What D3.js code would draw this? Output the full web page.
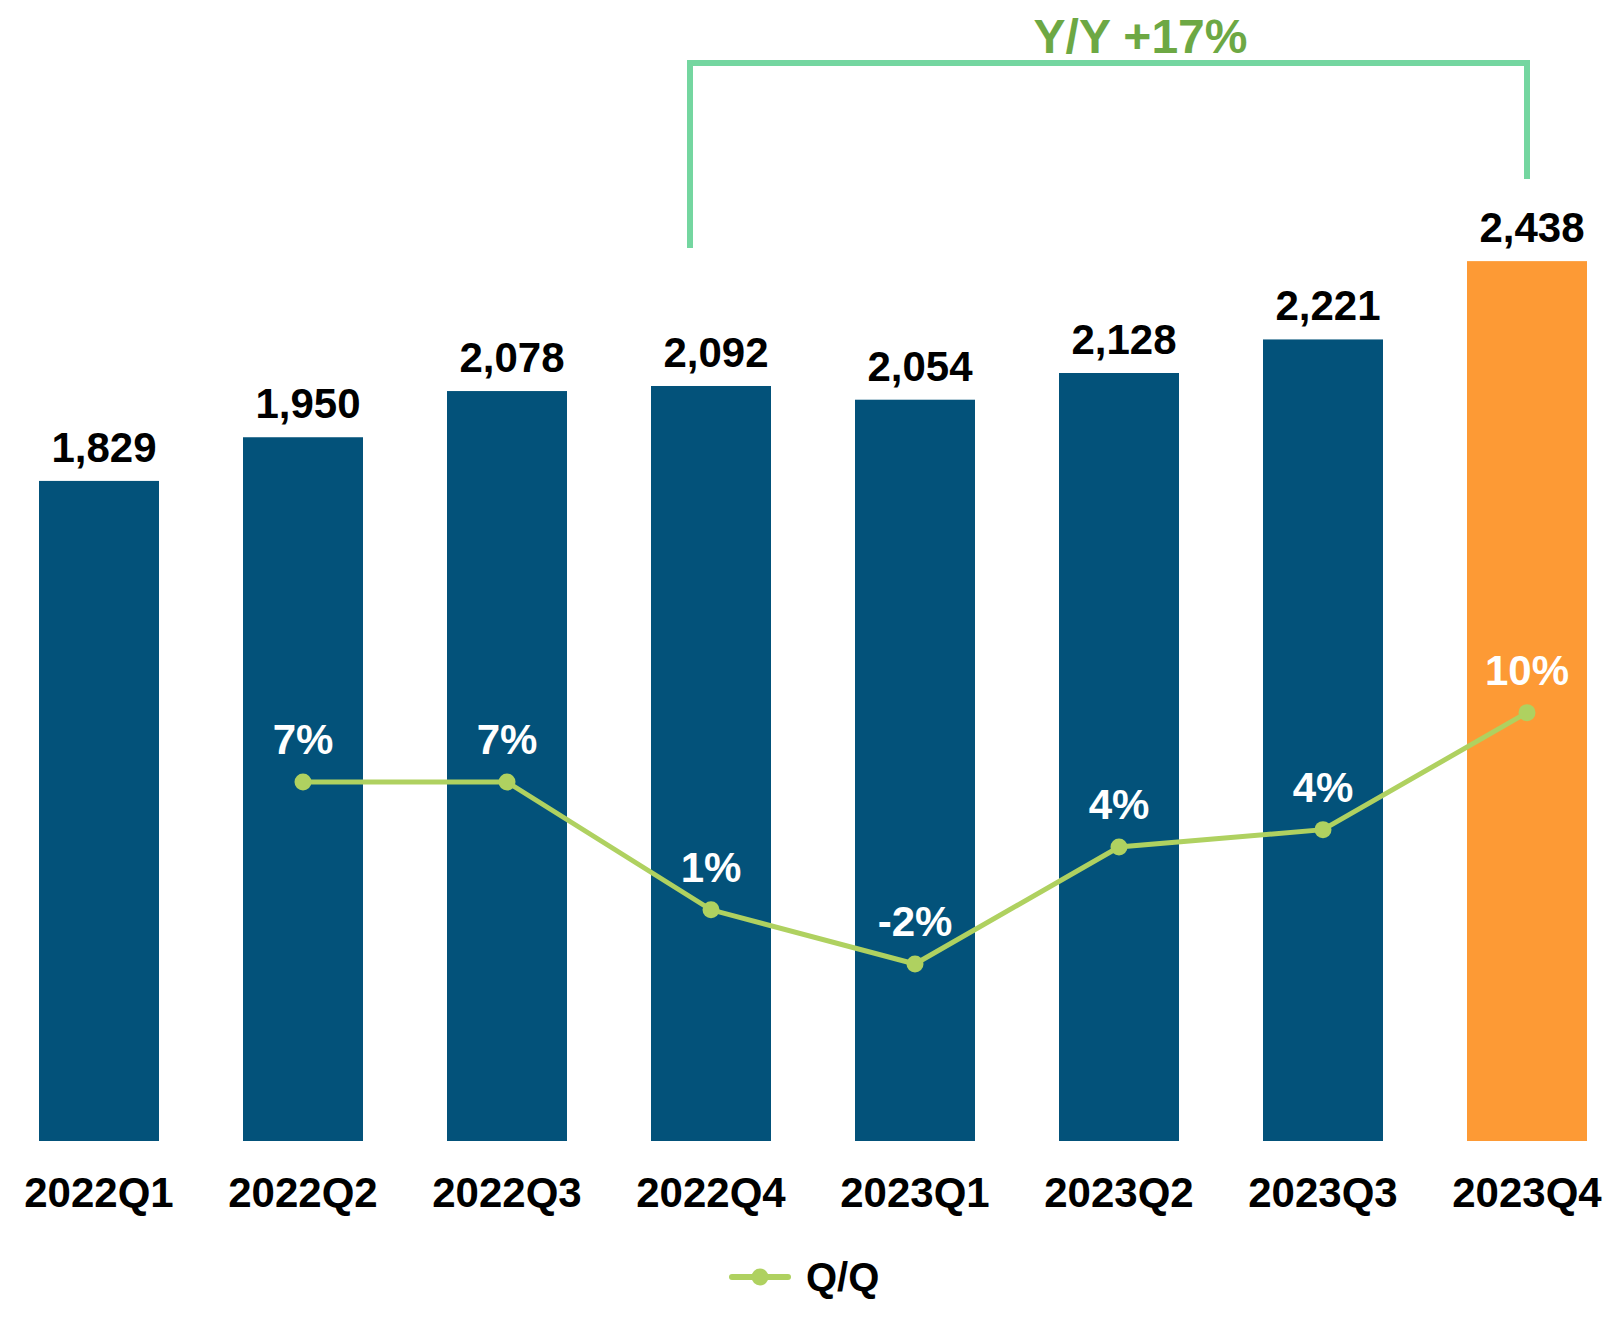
<!DOCTYPE html>
<html>
<head>
<meta charset="utf-8">
<script src="https://cdn.jsdelivr.net/npm/d3@7"></script>
<style>
  body { margin: 0; background: #fff; }
  svg { display: block; font-family: "Liberation Sans", Arial, sans-serif; font-weight: bold; }
</style>
</head>
<body>
<div id="chart"></div>
<script>
// quarterly values
var quarters = ["2022Q1", "2022Q2", "2022Q3", "2022Q4", "2023Q1", "2023Q2", "2023Q3", "2023Q4"];
var revenue = [1829, 1950, 2078, 2092, 2054, 2128, 2221, 2438];
var revenueLabels = ["1,829", "1,950", "2,078", "2,092", "2,054", "2,128", "2,221", "2,438"];
// Q/Q growth, first quarter has none
var qoq = [null, 6.6, 6.6, 0.7, -1.8, 3.6, 4.4, 9.8];
var qoqLabels = [null, "7%", "7%", "1%", "-2%", "4%", "4%", "10%"];
var yoyLabel = "Y/Y +17%";
var yoyFrom = "2022Q4", yoyTo = "2023Q4";
var legendLabel = "Q/Q";

var W = 1613, H = 1323;
var barColor = "#03527A", hiColor = "#FD9A35", lineColor = "#AFD160";
var bracketColor = "#74D6A0", yoyColor = "#6DA844";

var svg = d3.select("#chart").append("svg")
       .attr("width", W)
       .attr("height", H);

// scales
var x = d3.scaleBand()
       .domain(quarters)
       .range([-3, 1629])
       .paddingInner(0.4118)
       .paddingOuter(0.2059);
var xc = function (q) { return x(q) + x.bandwidth() / 2; };

var y = d3.scaleLinear()
       .domain([0, 2500])
       .range([1141, 1141 - 2500 * 0.3609]);

var y2 = d3.scaleLinear()
       .domain([-2, 10])
       .range([968.3, 708.3]);

// bars
svg.selectAll("rect.bar")
       .data(revenue)
       .enter()
       .append("rect")
       .attr("class", "bar")
       .attr("x", function (d, i) { return x(quarters[i]); })
       .attr("y", function (d) { return y(d); })
       .attr("width", x.bandwidth())
       .attr("height", function (d) { return y(0) - y(d); })
       .style("fill", function (d, i) { return i == quarters.length - 1 ? hiColor : barColor; });

// value labels above bars
svg.selectAll("text.val")
       .data(revenue)
       .enter()
       .append("text")
       .attr("class", "val")
       .attr("x", function (d, i) { return xc(quarters[i]) + 5; })
       .attr("y", function (d) { return y(d) - 19; })
       .attr("text-anchor", "middle")
       .style("font-size", "42px")
       .style("fill", "#000")
       .text(function (d, i) { return revenueLabels[i]; });

// category axis (labels only)
var xAxis = svg.append("g")
       .attr("transform", "translate(0,1141)")
       .call(d3.axisBottom(x).tickSize(0).tickPadding(0));
xAxis.select(".domain").remove();
xAxis.selectAll("text")
       .attr("y", 66)
       .attr("dy", 0)
       .style("font-family", "'Liberation Sans', Arial, sans-serif")
       .style("font-weight", "bold")
       .style("font-size", "42px")
       .style("fill", "#000");

// Q/Q line
var pts = qoq.map(function (v, i) { return { q: quarters[i], v: v, label: qoqLabels[i] }; })
       .filter(function (d) { return d.v !== null; });

var line = d3.line()
       .x(function (d) { return xc(d.q); })
       .y(function (d) { return y2(d.v); });

svg.append("path")
       .datum(pts)
       .attr("d", line)
       .style("fill", "none")
       .style("stroke", lineColor)
       .style("stroke-width", 5);

svg.selectAll("circle.pt")
       .data(pts)
       .enter()
       .append("circle")
       .attr("class", "pt")
       .attr("cx", function (d) { return xc(d.q); })
       .attr("cy", function (d) { return y2(d.v); })
       .attr("r", 8.5)
       .style("fill", lineColor);

svg.selectAll("text.pct")
       .data(pts)
       .enter()
       .append("text")
       .attr("class", "pct")
       .attr("x", function (d) { return xc(d.q); })
       .attr("y", function (d) { return y2(d.v) - 28; })
       .attr("text-anchor", "middle")
       .style("font-size", "42px")
       .style("fill", "#fff")
       .text(function (d) { return d.label; });

// Y/Y bracket
var bx0 = xc(yoyFrom) - 21, bx1 = xc(yoyTo), bTop = 63;
svg.append("path")
       .attr("d", "M" + bx0 + "," + 248 + "V" + bTop + "H" + bx1 + "V" + 179)
       .style("fill", "none")
       .style("stroke", bracketColor)
       .style("stroke-width", 6);

svg.append("text")
       .attr("x", (bx0 + bx1) / 2 + 32)
       .attr("y", 53)
       .attr("text-anchor", "middle")
       .style("font-size", "48px")
       .style("fill", yoyColor)
       .text(yoyLabel);

// legend
var lg = svg.append("g").attr("transform", "translate(732,1277)");
lg.append("line")
       .attr("x1", 0).attr("x2", 56)
       .attr("y1", 0).attr("y2", 0)
       .style("stroke", lineColor)
       .style("stroke-width", 6)
       .style("stroke-linecap", "round");
lg.append("circle")
       .attr("cx", 28).attr("cy", 0).attr("r", 8.5)
       .style("fill", lineColor);
lg.append("text")
       .attr("x", 74)
       .attr("y", 14)
       .style("font-size", "40px")
       .style("fill", "#000")
       .text(legendLabel);
</script>
</body>
</html>
